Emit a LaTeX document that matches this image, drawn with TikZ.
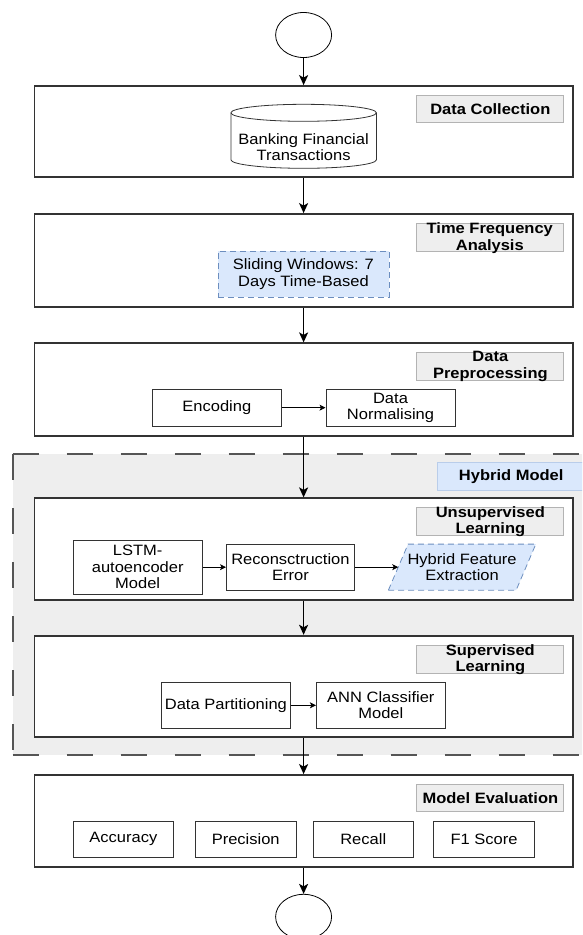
\documentclass[tikz,border=0pt]{standalone}
\usepackage{fontspec}
\setmainfont{Liberation Sans}[FakeStretch=1.1]
\usetikzlibrary{arrows.meta,shapes.geometric}

\definecolor{framegray}{HTML}{333333}
\definecolor{tagfill}{HTML}{EEEEEE}
\definecolor{tagline}{HTML}{B3B3B3}
\definecolor{bluefill}{HTML}{DAE8FC}
\definecolor{blueline}{HTML}{6C8EBF}
\definecolor{hybridline}{HTML}{555555}

\begin{document}
\begin{tikzpicture}[x=1pt, y=1pt,
    font=\fontsize{15}{16.5}\selectfont,
    terminal/.style={ellipse, draw=black, line width=0.8pt, fill=white, minimum width=56pt, minimum height=45pt},
    stage/.style={draw=framegray, line width=1.8pt, fill=white, minimum width=538.2pt, inner sep=0pt},
    tag/.style={draw=tagline, fill=tagfill, line width=0.8pt, minimum width=147pt, minimum height=27.7pt, inner sep=0pt, font=\fontsize{15}{16.5}\selectfont\bfseries},
    tagtext/.style={align=center, inner sep=0pt, font=\fontsize{15}{16.5}\selectfont\bfseries},
    item/.style={draw=framegray, line width=0.8pt, fill=white, align=center, inner sep=0pt, minimum width=129.2pt, minimum height=36.7pt},
    metric/.style={item, minimum width=100.6pt},
    flow/.style={draw=black, line width=1.6pt, -{Stealth[length=10pt, width=9pt, inset=2.5pt]}},
    link/.style={draw=black, line width=0.8pt, -{Stealth[length=6pt, width=6pt, inset=1.5pt]}},
    hybridedge/.style={draw=hybridline, line width=1.6pt, dash pattern=on 26pt off 28pt}
  ]
    \useasboundingbox (0,0) rectangle (582,-935);
    \clip (0,0) rectangle (582,-935);

    % Hybrid model region
    \fill[tagfill] (12.7,-454) rectangle (600,-755);
    \draw[hybridedge] (12.7,-454) -- (600,-454);
    \draw[hybridedge] (12.7,-454) -- (12.7,-755);
    \draw[hybridedge] (12.7,-755) -- (600,-755);
    \node[tag, draw=bluefill!70!blueline, fill=bluefill] (taghybrid) at (511.2,-476.2) {Hybrid Model};

    % Stages
    \node[terminal] (begin) at (303.6,-35) {};
    \node[stage, minimum height=90.7pt]  (collect)  at (303.6,-131.35) {};
    \node[stage, minimum height=92.7pt]  (timefreq) at (303.6,-260.35) {};
    \node[stage, minimum height=92.4pt]  (prepro)   at (303.6,-389.5) {};
    \node[stage, minimum height=101.7pt] (unsuper)  at (303.6,-549.15) {};
    \node[stage, minimum height=101.3pt] (super)    at (303.6,-686.35) {};
    \node[stage, minimum height=91.7pt]  (evaluate) at (303.6,-820.85) {};
    \node[terminal] (finish) at (303.6,-916.8) {};

    % Stage titles
    \node[tag] (tagcollect) at (490.35,-108.85) {Data Collection};
    \node[tag] (tagtimefreq) at (489.8,-237.5) {};
    \node[tagtext] (tagtimefreqtext) at (489.8,-238.3) {Time Frequency\\Analysis};
    \node[tag] (tagprepro) at (490.35,-366.15) {};
    \node[tagtext] (tagpreprotext) at (490.35,-366.3) {Data\\Preprocessing};
    \node[tag] (tagunsuper) at (490.35,-521.35) {};
    \node[tagtext] (tagunsupertext) at (490.35,-521.7) {Unsupervised\\Learning};
    \node[tag] (tagsuper) at (490.35,-659.5) {};
    \node[tagtext] (tagsupertext) at (490.35,-659.7) {Supervised\\Learning};
    \node[tag] (tagevaluate) at (490.35,-798) {Model Evaluation};

    % Data source
    \draw[framegray, line width=0.8pt, fill=white]
      (230.9,-112.8) -- (230.9,-159.8) arc (180:360:72.75 and 8.5) -- (376.4,-112.8) arc (0:180:72.75 and 8.5) -- cycle;
    \draw[framegray, line width=0.8pt] (230.9,-112.8) arc (180:360:72.75 and 8.5);
    \node[align=center, inner sep=0pt] (bank) at (303.6,-147) {Banking Financial\\Transactions};

    % Sliding window
    \node[item, fill=bluefill, draw=blueline, dash pattern=on 6pt off 4pt, minimum width=171.1pt, minimum height=46pt] (window) at (303.45,-274.3) {Sliding Windows: 7\\Days Time-Based};

    % Preprocessing
    \node[item] (encode) at (216.8,-407.65) {Encoding};
    \node[item] (norm) at (390.5,-407.65) {Data\\Normalising};
    \draw[link] (encode) -- (norm);

    % Unsupervised learning
    \node[item, minimum height=54.3pt] (lstm) at (137.7,-567.15) {LSTM-\\autoencoder\\Model};
    \node[item, minimum width=128.1pt, minimum height=45.7pt] (recon) at (290.45,-567.15) {Reconsctruction\\Error};
    \node[align=center, inner sep=0pt, minimum width=127.35pt, minimum height=45.7pt] (feature) at (462.1,-567.15) {};
    \draw[fill=bluefill, draw=blueline, line width=0.8pt, dash pattern=on 6pt off 4pt]
      ([xshift=-9.85pt]feature.south west) -- ([xshift=9.85pt]feature.north west) -- ([xshift=9.85pt]feature.north east) -- ([xshift=-9.85pt]feature.south east) -- cycle;
    \node[align=center, inner sep=0pt] (featuretext) at (feature) {Hybrid Feature\\Extraction};
    \draw[link] (lstm) -- (recon);
    \draw[link] (recon) -- (feature);

    % Supervised learning
    \node[item, minimum width=128.8pt, minimum height=46pt] (split) at (225.9,-705.3) {Data Partitioning};
    \node[item, minimum width=129.1pt, minimum height=46pt] (ann) at (380.85,-705.3) {ANN Classifier\\Model};
    \draw[link] (split) -- (ann);

    % Evaluation
    \node[metric] (acc) at (123.4,-839.35) {Accuracy};
    \node[metric] (prec) at (245.75,-839.35) {Precision};
    \node[metric] (rec) at (363.25,-839.35) {Recall};
    \node[metric] (fone) at (484.05,-839.35) {F1 Score};

    % Main flow
    \draw[flow] (begin) -- (collect);
    \draw[flow] (collect) -- (timefreq);
    \draw[flow] (timefreq) -- (prepro);
    \draw[flow] (prepro) -- (unsuper);
    \draw[flow] (unsuper) -- (super);
    \draw[flow] (super) -- (evaluate);
    \draw[flow] (evaluate) -- (finish);
\end{tikzpicture}
\end{document}
